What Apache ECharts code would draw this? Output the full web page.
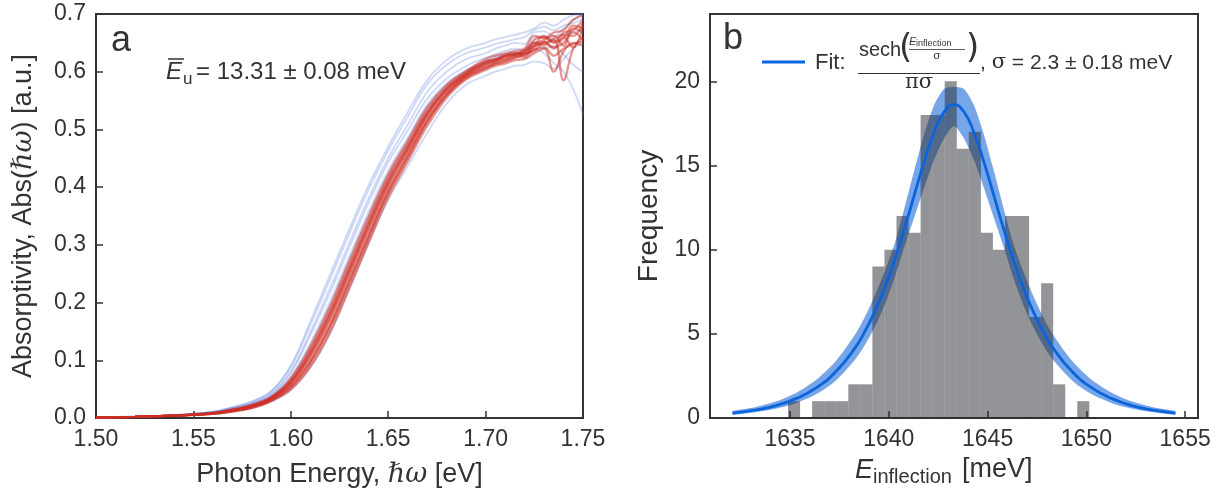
<!DOCTYPE html>
<html>
<head>
<meta charset="utf-8">
<script src="https://cdn.jsdelivr.net/npm/echarts@6/dist/echarts.min.js"></script>
<style>
html,body{margin:0;padding:0;background:#fff;}
#c{width:1217px;height:496px;}
</style>
</head>
<body>
<div id="c"></div>
<script>
// ---------- Panel a: absorption spectra ----------
const energyX = [1.50, 1.52, 1.54, 1.56, 1.57, 1.58, 1.59, 1.60, 1.61, 1.62, 1.63, 1.64, 1.65, 1.66, 1.67, 1.68, 1.69, 1.70, 1.705, 1.71, 1.715, 1.72, 1.725, 1.73, 1.735, 1.74, 1.745, 1.75];

const redSpectra = [
  [0.001,0.002,0.004,0.009,0.014,0.022,0.036,0.065,0.118,0.185,0.264,0.342,0.416,0.474,0.532,0.573,0.599, 0.618,0.622,0.629,0.632,0.628,0.655,0.660,0.650,0.668,0.672,0.690],
  [0.001,0.002,0.004,0.007,0.012,0.018,0.030,0.053,0.094,0.155,0.232,0.312,0.388,0.450,0.512,0.559,0.589, 0.606,0.613,0.617,0.624,0.630,0.638,0.642,0.628,0.640,0.648,0.652],
  [0.001,0.002,0.004,0.008,0.014,0.021,0.034,0.062,0.112,0.178,0.256,0.335,0.409,0.468,0.527,0.570,0.596, 0.615,0.619,0.627,0.630,0.636,0.648,0.655,0.662,0.645,0.675,0.668],
  [0.001,0.002,0.004,0.008,0.012,0.019,0.032,0.056,0.100,0.162,0.240,0.319,0.395,0.456,0.517,0.562,0.592, 0.609,0.616,0.621,0.627,0.625,0.642,0.652,0.640,0.660,0.642,0.680],
  [0.001,0.002,0.004,0.009,0.015,0.023,0.037,0.069,0.124,0.193,0.272,0.350,0.422,0.480,0.538,0.577,0.601, 0.622,0.628,0.632,0.636,0.640,0.662,0.658,0.668,0.672,0.690,0.698],
  [0.001,0.002,0.004,0.007,0.011,0.017,0.029,0.049,0.088,0.147,0.224,0.304,0.382,0.444,0.506,0.555,0.587, 0.603,0.610,0.614,0.620,0.622,0.632,0.640,0.600,0.635,0.650,0.645],
  [0.001,0.002,0.004,0.008,0.013,0.020,0.033,0.059,0.106,0.170,0.248,0.327,0.402,0.462,0.522,0.566,0.594, 0.612,0.620,0.623,0.629,0.634,0.644,0.650,0.655,0.585,0.640,0.660],
  [0.001,0.002,0.004,0.008,0.014,0.021,0.035,0.064,0.115,0.182,0.260,0.339,0.412,0.471,0.530,0.571,0.597, 0.617,0.621,0.628,0.631,0.637,0.651,0.646,0.658,0.664,0.662,0.685],
  [0.001,0.002,0.004,0.008,0.012,0.019,0.031,0.054,0.097,0.158,0.236,0.315,0.392,0.453,0.514,0.561,0.591, 0.607,0.614,0.619,0.625,0.631,0.636,0.650,0.642,0.650,0.668,0.655],
  [0.001,0.002,0.004,0.008,0.013,0.020,0.034,0.061,0.109,0.174,0.252,0.331,0.405,0.465,0.525,0.568,0.595, 0.613,0.618,0.626,0.629,0.633,0.646,0.662,0.652,0.658,0.680,0.675]
];

const blueSpectra = [
  [0.001,0.002,0.005,0.010,0.017,0.025,0.041,0.078,0.143,0.216,0.295,0.373,0.443,0.498,0.553,0.588,0.610, 0.624,0.630,0.636,0.640,0.638,0.658,0.662,0.655,0.665,0.668,0.672],
  [0.001,0.002,0.005,0.011,0.018,0.028,0.046,0.088,0.161,0.239,0.319,0.396,0.463,0.522,0.578,0.612,0.632, 0.642,0.648,0.652,0.656,0.660,0.672,0.678,0.672,0.680,0.684,0.692],
  [0.001,0.002,0.004,0.009,0.015,0.024,0.039,0.072,0.130,0.201,0.280,0.358,0.429,0.486,0.543,0.580,0.603, 0.618,0.626,0.630,0.634,0.630,0.640,0.632,0.615,0.600,0.570,0.525],
  [0.001,0.002,0.004,0.007,0.011,0.017,0.029,0.049,0.088,0.147,0.224,0.304,0.378,0.436,0.494,0.545,0.578, 0.593,0.600,0.605,0.610,0.612,0.618,0.615,0.605,0.622,0.640,0.650],
  [0.001,0.002,0.005,0.010,0.017,0.026,0.043,0.081,0.149,0.224,0.303,0.381,0.450,0.508,0.565,0.600,0.622, 0.632,0.640,0.645,0.650,0.648,0.668,0.670,0.662,0.675,0.690,0.700],
  [0.001,0.002,0.004,0.009,0.015,0.023,0.037,0.069,0.124,0.193,0.272,0.350,0.422,0.480,0.538,0.577,0.601, 0.615,0.624,0.628,0.632,0.636,0.650,0.640,0.645,0.630,0.612,0.600],
  [0.001,0.003,0.005,0.011,0.019,0.029,0.047,0.091,0.167,0.247,0.327,0.404,0.470,0.530,0.585,0.620,0.640, 0.650,0.656,0.660,0.664,0.668,0.675,0.685,0.680,0.690,0.698,0.700]
];

// ---------- Panel b: histogram of inflection energies ----------
const binEdges = [1634.90, 1635.51, 1636.12, 1636.73, 1637.34, 1637.95, 1638.56, 1639.17, 1639.78, 1640.39, 1641.00, 1641.61, 1642.22, 1642.83, 1643.44, 1644.05, 1644.66, 1645.27, 1645.88, 1646.49, 1647.10, 1647.71, 1648.32, 1648.93, 1649.54, 1650.15];
const binCounts = [1, 0, 1, 1, 1, 2, 2, 9, 10, 12, 11, 18, 18, 20, 16, 17, 11, 10, 12, 12, 6, 8, 2, 0, 1];

const fitE   = [1632.1, 1633.3, 1634.3, 1635.3, 1636.3, 1637.3, 1638.3, 1638.8, 1639.3, 1639.8, 1640.3, 1640.8, 1641.3, 1641.8, 1642.3, 1642.8, 1643.3, 1643.8, 1644.3, 1644.8, 1645.3, 1645.8, 1646.3, 1646.8, 1647.3, 1647.8, 1648.3, 1649.3, 1650.3, 1651.3, 1652.3, 1653.3, 1654.5];
const fitMid = [0.29, 0.48, 0.74, 1.15, 1.77, 2.73, 4.18, 5.16, 6.35, 7.76, 9.41, 11.28, 13.28, 15.26, 16.99, 18.19, 18.62, 18.19, 16.99, 15.26, 13.28, 11.28, 9.41, 7.76, 6.35, 5.16, 4.18, 2.73, 1.77, 1.15, 0.74, 0.48, 0.29];
const fitHi  = [0.41, 0.66, 0.99, 1.49, 2.24, 3.35, 4.97, 6.03, 7.29, 8.73, 10.38, 12.51, 14.76, 16.89, 18.61, 19.55, 19.66, 19.55, 18.61, 16.89, 14.76, 12.51, 10.38, 8.73, 7.29, 6.03, 4.97, 3.35, 2.24, 1.49, 0.99, 0.66, 0.41];
const fitLo  = [0.20, 0.35, 0.56, 0.88, 1.39, 2.20, 3.47, 4.35, 5.43, 6.75, 8.35, 10.22, 11.96, 13.72, 15.35, 16.62, 17.35, 16.62, 15.35, 13.72, 11.96, 10.22, 8.35, 6.75, 5.43, 4.35, 3.47, 2.20, 1.39, 0.88, 0.56, 0.35, 0.20];

const xTicksA = [1.50, 1.55, 1.60, 1.65, 1.70, 1.75];
const yTicksA = [0.0, 0.1, 0.2, 0.3, 0.4, 0.5, 0.6, 0.7];
const xTicksB = [1635, 1640, 1645, 1650, 1655];
const yTicksB = [0, 5, 10, 15, 20];

// ---------- chart ----------
const FONT = '"Liberation Sans", Arial, sans-serif';
const SERIF = '"DejaVu Serif", serif';
const INK = '#333333';
const chart = echarts.init(document.getElementById('c'), null, {renderer: 'canvas'});

function axisCommon() {
  return {
    axisLine: {show: true, lineStyle: {color: INK, width: 2}},
    axisTick: {show: true, inside: true, length: 7, lineStyle: {color: INK, width: 1.5}},
    splitLine: {show: false},
    axisLabel: {color: INK, fontSize: 23, fontFamily: FONT, margin: 10},
    nameTextStyle: {color: INK, fontSize: 27, fontFamily: FONT}
  };
}

const series = [];
blueSpectra.forEach((arr) => {
  series.push({
    type: 'line', xAxisIndex: 0, yAxisIndex: 0, silent: true,
    data: energyX.map((x, i) => [x, arr[i]]),
    showSymbol: false, symbol: 'none', smooth: 0.4,
    lineStyle: {color: 'rgba(90,125,225,0.3)', width: 1.8},
    z: 2
  });
});
redSpectra.forEach((arr) => {
  series.push({
    type: 'line', xAxisIndex: 0, yAxisIndex: 0, silent: true,
    data: energyX.map((x, i) => [x, arr[i]]),
    showSymbol: false, symbol: 'none', smooth: 0.4,
    lineStyle: {color: 'rgba(205,45,35,0.5)', width: 2.3},
    z: 3
  });
});

// fit confidence band drawn as one polygon through the axis scales
series.push({
  type: 'custom', xAxisIndex: 1, yAxisIndex: 1, silent: true, z: 1,
  data: [[fitE[16], fitHi[16]]],
  renderItem: function (params, api) {
    const pts = [];
    for (let i = 0; i < fitE.length; i++) pts.push(api.coord([fitE[i], fitHi[i]]));
    for (let i = fitE.length - 1; i >= 0; i--) pts.push(api.coord([fitE[i], fitLo[i]]));
    return {type: 'polygon', shape: {points: pts, smooth: 0.25}, style: {fill: 'rgba(21,101,216,0.58)'}};
  }
});
// histogram
series.push({
  type: 'custom', xAxisIndex: 1, yAxisIndex: 1, silent: true, z: 2,
  data: binCounts.map((c, i) => [binEdges[i], binEdges[i + 1], c]),
  renderItem: function (params, api) {
    const p0 = api.coord([api.value(0), api.value(2)]);
    const p1 = api.coord([api.value(1), 0]);
    return {
      type: 'rect',
      shape: {x: p0[0], y: p0[1], width: p1[0] - p0[0], height: p1[1] - p0[1]},
      style: {fill: 'rgba(40,42,48,0.5)'}
    };
  }
});
// fit line
series.push({
  type: 'line', xAxisIndex: 1, yAxisIndex: 1, silent: true,
  data: fitE.map((x, i) => [x, fitMid[i]]),
  symbol: 'none', smooth: true,
  lineStyle: {color: '#0a64dc', width: 2.8}, z: 3
});

const option = {
  animation: false,
  backgroundColor: '#ffffff',
  grid: [
    {left: 96, top: 14, width: 487, height: 404, show: true, borderColor: INK, borderWidth: 2, backgroundColor: 'transparent'},
    {left: 710, top: 14, width: 488, height: 404, show: true, borderColor: INK, borderWidth: 2, backgroundColor: 'transparent'}
  ],
  xAxis: [
    Object.assign(axisCommon(), {
      type: 'value', gridIndex: 0, min: xTicksA[0], max: xTicksA[xTicksA.length - 1], interval: 0.05,
      name: 'Photon Energy, {m|ℏω} [eV]', nameLocation: 'middle', nameGap: 43,
      nameTextStyle: {color: INK, fontSize: 27, fontFamily: FONT,
        rich: {m: {fontSize: 27, fontFamily: SERIF, fontStyle: 'italic', color: INK}}},
      axisLabel: {color: INK, fontSize: 23, fontFamily: FONT, margin: 10, formatter: (v) => v.toFixed(2)}
    }),
    Object.assign(axisCommon(), {
      type: 'value', gridIndex: 1, min: 1630.95, max: 1655.65,
      axisLabel: {color: INK, fontSize: 23, fontFamily: FONT, margin: 10, showMinLabel: false, showMaxLabel: false,
        formatter: (v) => (xTicksB.indexOf(Math.round(v)) >= 0 && Math.abs(v - Math.round(v)) < 1e-6) ? String(Math.round(v)) : ''}
    })
  ],
  yAxis: [
    Object.assign(axisCommon(), {
      type: 'value', gridIndex: 0, min: yTicksA[0], max: yTicksA[yTicksA.length - 1], interval: 0.1,
      name: 'Absorptivity, Abs({m|ℏω}) [a.u.]', nameLocation: 'middle', nameGap: 59, nameRotate: 90,
      nameTextStyle: {color: INK, fontSize: 27, fontFamily: FONT,
        rich: {m: {fontSize: 27, fontFamily: SERIF, fontStyle: 'italic', color: INK}}},
      axisLabel: {color: INK, fontSize: 23, fontFamily: FONT, margin: 10, formatter: (v) => v.toFixed(1)}
    }),
    Object.assign(axisCommon(), {
      type: 'value', gridIndex: 1, min: 0, max: 24, interval: 5,
      name: 'Frequency', nameLocation: 'middle', nameGap: 47, nameRotate: 90,
      nameTextStyle: {color: INK, fontSize: 28, fontFamily: FONT},
      axisLabel: {color: INK, fontSize: 23, fontFamily: FONT, margin: 10, showMaxLabel: false,
        formatter: (v) => (yTicksB.indexOf(v) >= 0 ? String(v) : '')}
    })
  ],
  series: series,
  graphic: [
    {type: 'text', left: 111, top: 23, style: {text: 'a', font: '36px ' + FONT, fill: INK}},
    {type: 'text', left: 723, top: 21, style: {text: 'b', font: '36px ' + FONT, fill: INK}},
    // panel a annotation
    {type: 'text', x: 166, y: 72, style: {text: 'E', font: 'italic 24px ' + FONT, fill: INK, verticalAlign: 'middle'}},
    {type: 'line', shape: {x1: 168, y1: 59, x2: 184, y2: 59}, style: {stroke: INK, lineWidth: 1.5}},
    {type: 'text', x: 183, y: 79, style: {text: 'u', font: '17px ' + FONT, fill: INK, verticalAlign: 'middle'}},
    {type: 'text', x: 196, y: 72, style: {text: '= 13.31 ± 0.08 meV', font: '24px ' + FONT, fill: INK, verticalAlign: 'middle'}},
    // panel b legend
    {type: 'line', shape: {x1: 762, y1: 62, x2: 805, y2: 62}, style: {stroke: '#0a64dc', lineWidth: 2.8}},
    {type: 'text', x: 815, y: 63, style: {text: 'Fit:', font: '22px ' + FONT, fill: INK, verticalAlign: 'middle'}},
    {type: 'text', x: 859, y: 50, style: {text: 'sech', font: '20px ' + FONT, fill: INK, verticalAlign: 'middle'}},
    {type: 'text', x: 899, y: 49, style: {text: '(', font: '34px "DejaVu Sans", sans-serif', fill: INK, verticalAlign: 'middle'}},
    {type: 'text', x: 909, y: 42, style: {text: 'E', font: 'italic 11px ' + FONT, fill: INK, verticalAlign: 'middle'}},
    {type: 'text', x: 916, y: 44, style: {text: 'inflection', font: '9px ' + FONT, fill: INK, verticalAlign: 'middle'}},
    {type: 'line', shape: {x1: 909, y1: 49.5, x2: 965, y2: 49.5}, style: {stroke: INK, lineWidth: 0.8}},
    {type: 'text', x: 937, y: 56, style: {text: 'σ', font: '11px ' + SERIF, fill: INK, align: 'center', verticalAlign: 'middle'}},
    {type: 'text', x: 966, y: 49, style: {text: ')', font: '34px "DejaVu Sans", sans-serif', fill: INK, verticalAlign: 'middle'}},
    {type: 'line', shape: {x1: 858, y1: 73.5, x2: 980, y2: 73.5}, style: {stroke: INK, lineWidth: 1}},
    {type: 'text', x: 919, y: 83, style: {text: 'πσ', font: '21px ' + SERIF, fill: INK, align: 'center', verticalAlign: 'middle'}},
    {type: 'text', x: 980, y: 63, style: {
      text: '{t|, }{g|σ}{t| = 2.3 ± 0.18 meV}', verticalAlign: 'middle',
      rich: {t: {font: '21px ' + FONT, fill: INK}, g: {font: '21px ' + SERIF, fill: INK}}}},
    // panel b x-axis title
    {type: 'text', x: 855, y: 470, style: {text: 'E', font: 'italic 27px ' + FONT, fill: INK, verticalAlign: 'middle'}},
    {type: 'text', x: 873, y: 477, style: {text: 'inflection', font: '20px ' + FONT, fill: INK, verticalAlign: 'middle'}},
    {type: 'text', x: 962, y: 470, style: {text: '[meV]', font: '27px ' + FONT, fill: INK, verticalAlign: 'middle'}}
  ]
};
chart.setOption(option);
</script>
</body>
</html>
